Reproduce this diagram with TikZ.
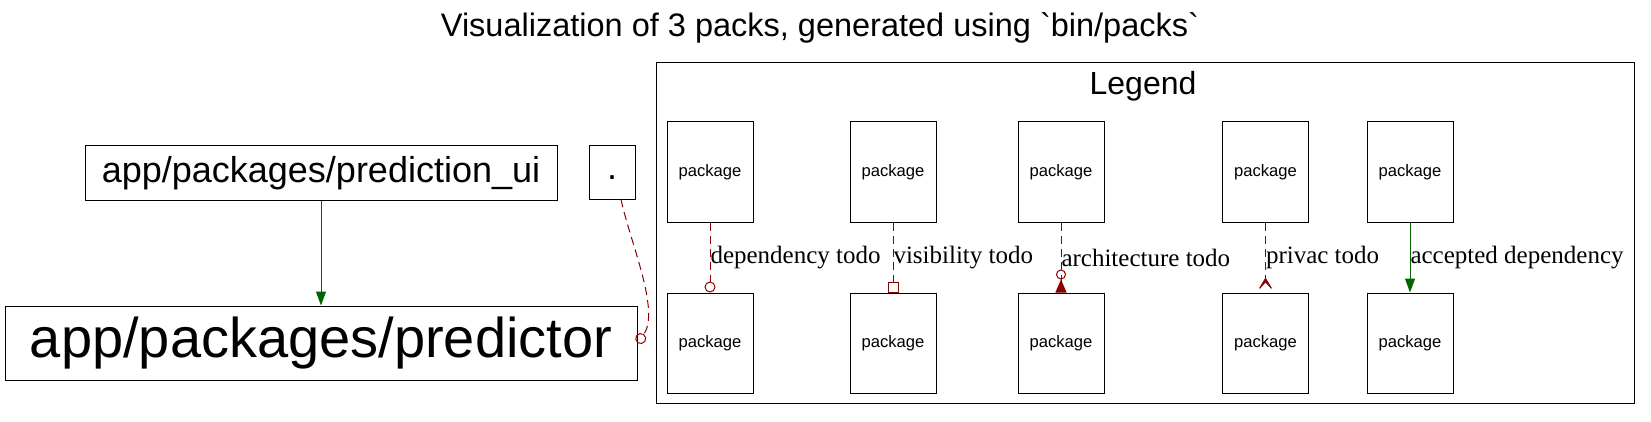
\documentclass[tikz,border=0pt]{standalone}
\usepackage{fontspec}
\setmainfont{Liberation Serif}
\setsansfont{Liberation Sans}
\usetikzlibrary{arrows.meta}
\definecolor{todored}{HTML}{8B0000}
\definecolor{okgreen}{HTML}{006400}
\newcommand{\fsz}[1]{\fontsize{#1}{#1}\selectfont}

\begin{document}
\begin{tikzpicture}[x=1pt, y=1pt, line width=1pt,
    box/.style={draw, inner sep=0pt},
    pkg/.style={box, minimum width=86, minimum height=100, font=\sffamily\fsz{16.6}},
    todo/.style={draw=todored, dash pattern=on 8pt off 5pt},
    ok/.style={draw=okgreen, -{Triangle[length=14pt, width=10pt]}},
    lbl/.style={anchor=west, inner sep=0pt, font=\fsz{25}}]
\useasboundingbox (0,0) rectangle (1651,421);

\node[font=\sffamily\fsz{32.5}, anchor=base] (title) at (820,384) {Visualization of 3 packs, generated using \textasciigrave bin/packs\textasciigrave};

% legend
\node[box, minimum width=978, minimum height=340] (legend) at (1145,188) {};
\node[font=\sffamily\fsz{32}, anchor=base] (legendtitle) at (1143,326) {Legend};
\foreach \n/\x in {a/710,b/893,c/1061,d/1265.5,e/1410}
{
    \node[pkg] (top\n) at (\x,249) {package};
    \node[pkg] (bot\n) at (\x,78) {package};
}
\draw[todo, -{Circle[open, length=11pt]}] (topa) -- node[lbl]{dependency todo} (bota);
\draw[todo, -{Square[open, length=11pt]}] (topb) -- node[lbl]{visibility todo} (botb);
\draw[todo, -{Circle[open, length=10pt, sep=0pt] Triangle[reversed, length=13pt, width=11pt]}] (topc) -- node[lbl]{architecture todo} (botc);
\draw[todo, -{Stealth[reversed, length=15pt, width=18pt, inset=10pt]}] (topd) -- node[lbl]{privac todo} (botd);
\draw[ok] (tope) -- node[lbl]{accepted dependency} (bote);

% packs
\node[box, minimum width=472, minimum height=54, font=\sffamily\fsz{36}] (ui) at (321,248) {app/packages/prediction\_ui};
\node[box, minimum width=46, minimum height=53, font=\sffamily\fsz{36}] (dot) at (612,248.5) {\strut.};
\node[box, minimum width=632, minimum height=74, font=\sffamily\fsz{56}] (pred) at (321,78) {app/packages/predictor};

\draw[ok] (ui) -- (pred);
\draw[todo, -{Circle[open, length=11pt]}] ([xshift=9pt]dot.south) .. controls +(9,-42) and +(23,32) .. (pred.east);
\end{tikzpicture}
\end{document}
